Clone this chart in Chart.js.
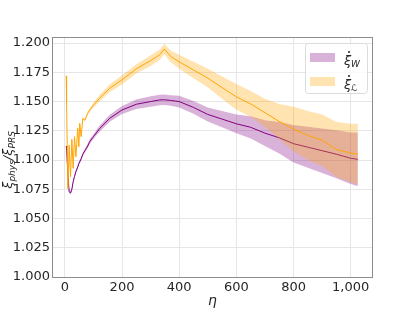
<!DOCTYPE html>
<html>
<head>
<meta charset="utf-8">
<script src="https://cdn.jsdelivr.net/npm/chart.js@4"></script>
<style>
  html, body { margin: 0; padding: 0; background: #fff; }
  #wrap { width: 415px; height: 312px; }
</style>
</head>
<body>
<div id="wrap"><canvas id="chart" width="415" height="312"></canvas></div>
<script>
// values
const eta = [4.7, 6, 10.5, 15, 19.8, 24.5, 29, 33.8, 38.5, 45,
    49, 52, 57, 63, 70, 80, 87, 100, 122, 157,
    200, 250, 300, 332, 348, 370, 400, 450, 500, 550,
    600, 650, 700, 750, 800, 850, 900, 950, 1000, 1025];

const xiW = [1.112, 1.110, 1.088, 1.073, 1.0718, 1.075, 1.0814, 1.086, 1.090, 1.094,
    1.097, 1.0985, 1.101, 1.105, 1.108, 1.112, 1.1157, 1.120, 1.127, 1.1357,
    1.1428, 1.1477, 1.150, 1.1514, 1.1515, 1.151, 1.150, 1.145, 1.139, 1.135,
    1.131, 1.128, 1.123, 1.119, 1.114, 1.111, 1.108, 1.105, 1.1015, 1.1006];
const xiWErr = [0.0015, 0.0015, 0.0015, 0.0015, 0.0015, 0.0015, 0.0015, 0.0015, 0.0015, 0.0015,
    0.0015, 0.0015, 0.0015, 0.0015, 0.0015, 0.002, 0.002, 0.002, 0.0025, 0.003,
    0.0035, 0.004, 0.0045, 0.0045, 0.0045, 0.0045, 0.005, 0.0055, 0.006, 0.007,
    0.008, 0.0095, 0.011, 0.0135, 0.016, 0.0175, 0.019, 0.0205, 0.022, 0.023];

const xiL = [1.172, 1.150, 1.0757, 1.1128, 1.0857, 1.1177, 1.0929, 1.120, 1.1028, 1.1271,
    1.1114, 1.1314, 1.120, 1.1357, 1.134, 1.140, 1.1428, 1.147, 1.153, 1.1614,
    1.1686, 1.178, 1.185, 1.190, 1.195, 1.1886, 1.184, 1.177, 1.170, 1.162,
    1.154, 1.148, 1.1405, 1.133, 1.1265, 1.121, 1.117, 1.109, 1.106, 1.105];
const xiLErr = [0.001, 0.001, 0.001, 0.001, 0.001, 0.001, 0.001, 0.001, 0.001, 0.001,
    0.001, 0.001, 0.001, 0.001, 0.001, 0.001, 0.0015, 0.002, 0.003, 0.0035,
    0.004, 0.004, 0.0045, 0.0045, 0.0045, 0.005, 0.006, 0.007, 0.008, 0.0095,
    0.011, 0.011, 0.012, 0.015, 0.019, 0.021, 0.022, 0.0235, 0.025, 0.026];

const xTicks = [0, 200, 400, 600, 800, 1000];
const yTicks = [1.000, 1.025, 1.050, 1.075, 1.100, 1.125, 1.150, 1.175, 1.200];

const PURPLE = '#800080';
const ORANGE = '#ffa500';
const PURPLE_FILL = 'rgba(128, 0, 128, 0.3)';
const ORANGE_FILL = 'rgba(255, 165, 0, 0.3)';
const TEXT = '#262626';

const pts = (ys, errs, sign) => eta.map((x, i) => ({ x: x, y: ys[i] + sign * (errs ? errs[i] : 0) }));

// draw order: W band, W line, L band, L line (higher order = drawn first)
const datasets = [
    { data: pts(xiL, null, 0), borderColor: ORANGE, borderWidth: 1, order: 1 },
    { data: pts(xiL, xiLErr, 1), borderWidth: 0, backgroundColor: ORANGE_FILL, fill: 2, order: 2 },
    { data: pts(xiL, xiLErr, -1), borderWidth: 0, fill: false, order: 3 },
    { data: pts(xiW, null, 0), borderColor: PURPLE, borderWidth: 1, order: 4 },
    { data: pts(xiW, xiWErr, 1), borderWidth: 0, backgroundColor: PURPLE_FILL, fill: 5, order: 5 },
    { data: pts(xiW, xiWErr, -1), borderWidth: 0, fill: false, order: 6 }
];

// text the library can't lay out itself: subscripts, dots, frame, legend
function subText(ctx, parts, x, y) {
    // parts: [text, isSub]
    let cx = x;
    parts.forEach(p => {
        ctx.font = p[1] ? 'italic 9px "DejaVu Sans"' : 'italic 13px "DejaVu Sans"';
        ctx.fillText(p[0], cx, p[1] ? y + 4 : y);
        cx += ctx.measureText(p[0]).width;
    });
    return cx - x;
}

const decorations = {
    id: 'decorations',
    afterDraw(chart) {
        const ctx = chart.ctx;
        const a = chart.chartArea;
        ctx.save();

        // frame
        ctx.strokeStyle = '#8c8c8c';
        ctx.lineWidth = 1;
        ctx.strokeRect(Math.round(a.left) + 0.5, Math.round(a.top) + 0.5,
            Math.round(a.right - a.left) - 1, Math.round(a.bottom - a.top));

        ctx.fillStyle = TEXT;
        ctx.textBaseline = 'middle';

        // x title
        ctx.font = 'italic 14px "DejaVu Sans"';
        ctx.textAlign = 'center';
        ctx.fillText('η', (a.left + a.right) / 2, 301);

        // y title, rotated
        ctx.textAlign = 'left';
        const yParts = [['ξ', false], ['phys', true], ['/ξ', false], ['PRS', true]];
        ctx.save();
        ctx.translate(9, 160);
        ctx.rotate(-Math.PI / 2);
        let w = 0;
        yParts.forEach(p => {
            ctx.font = p[1] ? 'italic 9px "DejaVu Sans"' : 'italic 13px "DejaVu Sans"';
            w += ctx.measureText(p[0]).width;
        });
        subText(ctx, yParts, -w / 2, 0);
        ctx.restore();

        // legend
        const lx = 305, ly = 43, lw = 62, lh = 50;
        ctx.fillStyle = 'rgba(255,255,255,0.8)';
        ctx.strokeStyle = '#dcdcdc';
        ctx.beginPath();
        ctx.roundRect(lx + 0.5, ly + 0.5, lw, lh, 3);
        ctx.fill();
        ctx.stroke();

        const items = [
            { fill: PURPLE_FILL, sub: 'W', y: 58 },
            { fill: ORANGE_FILL, sub: 'ℒ', y: 82 }
        ];
        items.forEach(it => {
            ctx.fillStyle = it.fill;
            ctx.fillRect(310, it.y - 5, 25, 9);
            ctx.fillStyle = TEXT;
            ctx.textBaseline = 'middle';
            ctx.textAlign = 'left';
            ctx.font = 'italic 13px "DejaVu Sans"';
            ctx.fillText('ξ', 344, it.y + 4);
            // dot above ξ
            ctx.beginPath();
            ctx.arc(349, it.y - 6, 1, 0, Math.PI * 2);
            ctx.fill();
            ctx.font = 'italic 9px "DejaVu Sans"';
            ctx.fillText(it.sub, 351, it.y + 7);
        });

        ctx.restore();
    }
};

new Chart(document.getElementById('chart'), {
    type: 'line',
    data: { datasets: datasets },
    options: {
        responsive: false,
        animation: false,
        events: [],
        layout: { padding: { top: 37, right: 42, left: 0, bottom: 0 } },
        elements: { point: { radius: 0 }, line: { tension: 0 } },
        plugins: { legend: { display: false }, tooltip: { enabled: false } },
        scales: {
            x: {
                type: 'linear',
                min: -45,
                max: 1078,
                afterBuildTicks: s => { s.ticks = xTicks.map(v => ({ value: v })); },
                afterFit: s => { s.height = 35; },
                grid: { color: '#e6e6e6', drawTicks: false },
                border: { display: false },
                ticks: { color: TEXT, padding: 3, font: { family: 'DejaVu Sans', size: 13 }, maxRotation: 0 }
            },
            y: {
                min: 1.0,
                max: 1.2052,
                afterBuildTicks: s => { s.ticks = yTicks.map(v => ({ value: v })); },
                afterFit: s => { s.width = 52; },
                grid: { color: '#e6e6e6', drawTicks: false },
                border: { display: false },
                ticks: {
                    color: TEXT, padding: 2,
                    font: { family: 'DejaVu Sans', size: 13 },
                    callback: v => v.toFixed(3)
                }
            }
        }
    },
    plugins: [decorations]
});
</script>
</body>
</html>
